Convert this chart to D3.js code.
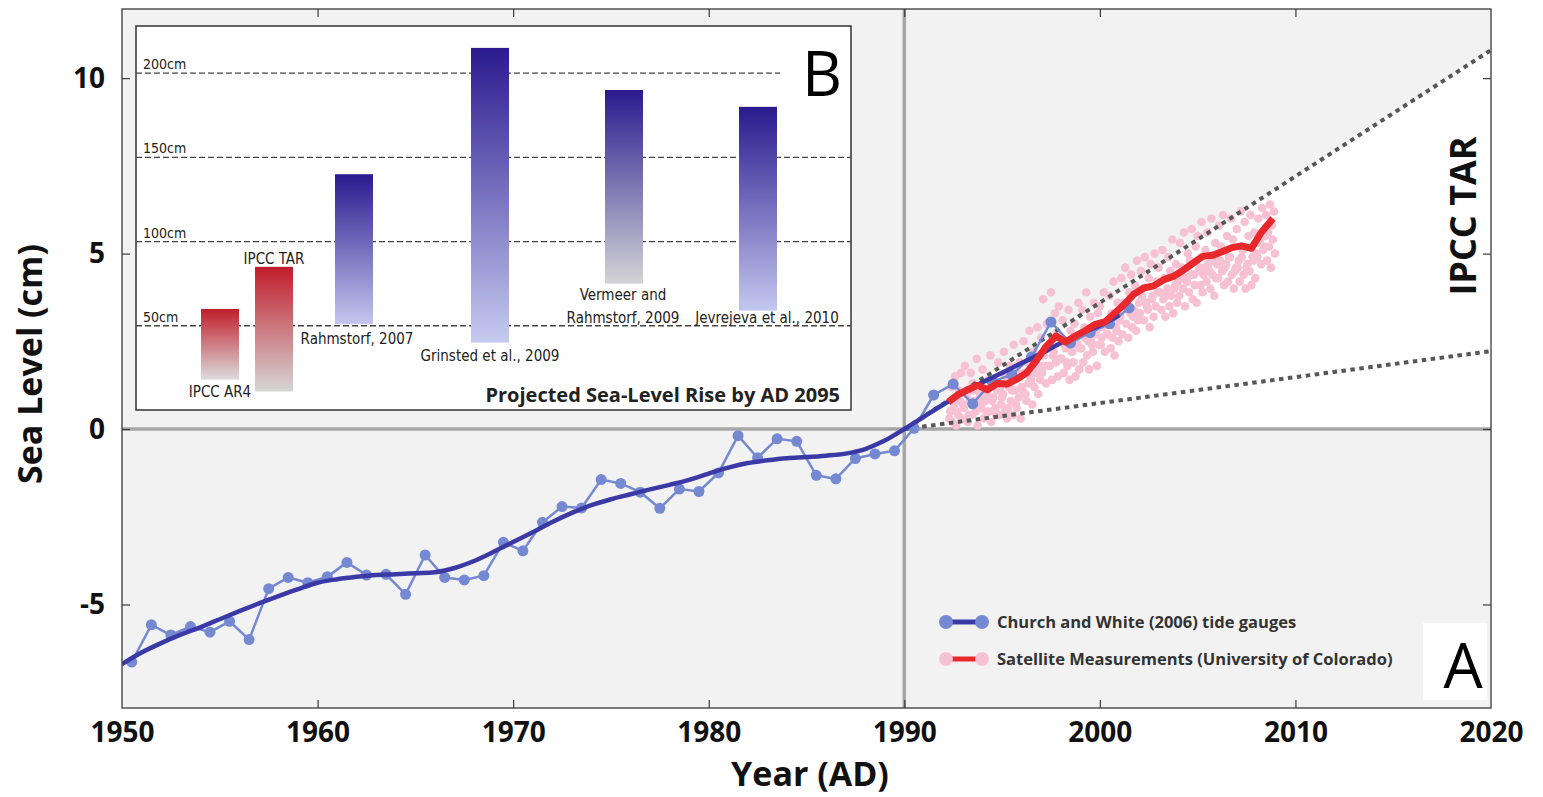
<!DOCTYPE html>
<html>
<head>
<meta charset="utf-8">
<script src="https://cdn.jsdelivr.net/npm/d3@7"></script>
<style>
  body { margin: 0; background: #ffffff; }
  svg { display: block; }
</style>
</head>
<body>
<svg id="chart" width="1543" height="797"></svg>
<script>
// ---------- Panel A data (sea level in cm, relative to 1990) ----------
const xTickYears = [1950, 1960, 1970, 1980, 1990, 2000, 2010, 2020];
const yTickValues = [-5, 0, 5, 10];

// Church and White (2006) annual tide-gauge means
const tideYears = [1950.5, 1951.5, 1952.5, 1953.5, 1954.5, 1955.5, 1956.5, 1957.5, 1958.5, 1959.5,
  1960.5, 1961.5, 1962.5, 1963.5, 1964.5, 1965.5, 1966.5, 1967.5, 1968.5, 1969.5,
  1970.5, 1971.5, 1972.5, 1973.5, 1974.5, 1975.5, 1976.5, 1977.5, 1978.5, 1979.5,
  1980.5, 1981.5, 1982.5, 1983.5, 1984.5, 1985.5, 1986.5, 1987.5, 1988.5, 1989.5,
  1990.5, 1991.5, 1992.5, 1993.5, 1994.5, 1995.5, 1996.5, 1997.5, 1998.5, 1999.5,
  2000.5, 2001.5];
const tideValues = [-6.64, -5.58, -5.87, -5.63, -5.79, -5.48, -6.0, -4.55, -4.23, -4.38,
  -4.21, -3.8, -4.16, -4.14, -4.71, -3.59, -4.23, -4.3, -4.18, -3.23,
  -3.47, -2.66, -2.21, -2.25, -1.44, -1.55, -1.8, -2.26, -1.71, -1.78,
  -1.25, -0.19, -0.82, -0.28, -0.35, -1.32, -1.42, -0.84, -0.71, -0.62,
  0.02, 0.97, 1.28, 0.72, 1.35, 1.55, 2.05, 3.05, 2.45, 2.75,
  3.0, 3.45];

// Smoothed tide-gauge trend
const trendYears = [1950, 1951, 1952, 1953, 1954, 1955, 1956, 1957, 1958, 1959,
  1960, 1961, 1962, 1963, 1964, 1965, 1966, 1967, 1968, 1969,
  1970, 1971, 1972, 1973, 1974, 1975, 1976, 1977, 1978, 1979,
  1980, 1981, 1982, 1983, 1984, 1985, 1986, 1987, 1988, 1989,
  1990, 1991, 1992, 1993, 1994, 1995, 1996, 1997, 1998, 1999, 2000, 2001];
const trendValues = [-6.7, -6.37, -6.1, -5.86, -5.65, -5.42, -5.19, -4.97, -4.76, -4.56,
  -4.38, -4.28, -4.21, -4.16, -4.14, -4.11, -4.08, -3.96, -3.76, -3.5,
  -3.22, -2.94, -2.65, -2.39, -2.17, -2.0, -1.86, -1.72, -1.59, -1.45,
  -1.27, -1.1, -0.97, -0.89, -0.83, -0.8, -0.76, -0.7, -0.57, -0.33,
  0.0, 0.35, 0.7, 1.02, 1.33, 1.6, 1.88, 2.15, 2.45, 2.72, 2.95, 3.25];

// University of Colorado satellite altimetry: smoothed curve
const satLineYears = [1992.25, 1992.75, 1993.25, 1993.75, 1994.25, 1994.75, 1995.25, 1995.75,
  1996.25, 1996.75, 1997.25, 1997.75, 1998.25, 1998.75, 1999.25, 1999.75,
  2000.25, 2000.75, 2001.25, 2001.75, 2002.25, 2002.75, 2003.25, 2003.75,
  2004.25, 2004.75, 2005.25, 2005.75, 2006.25, 2006.75, 2007.25, 2007.75,
  2008.25, 2008.85];
const satLineValues = [0.77, 0.98, 1.12, 1.25, 1.12, 1.3, 1.28, 1.42,
  1.6, 1.95, 2.35, 2.65, 2.48, 2.65, 2.8, 2.98,
  3.05, 3.3, 3.55, 3.85, 4.02, 4.08, 4.25, 4.35,
  4.52, 4.72, 4.92, 4.95, 5.05, 5.17, 5.22, 5.15,
  5.6, 6.0];

// Satellite individual measurements (two interleaved passes, 0.1-year spacing)
const satFirstYear = 1992.3;
const satStepYears = 0.1;
const satPassA = [0.3, 1.2, 0.6, 1.5, 0.5, 1.1, 1.6,
  0.7, 1.8, 1.0, 0.4, 1.6, 1.3, 0.8, 2.0, 1.1, 0.6,
  1.7, 0.9, 0.5, 1.4, 2.1, 0.8, 1.3, 0.4, 1.9, 1.2,
  0.9, 2.2, 1.5, 0.6, 1.8, 1.1, 2.4, 0.7, 1.6, 1.9,
  1.2, 2.5, 1.0, 1.9, 2.8, 1.4, 2.2, 1.6, 2.9, 1.8,
  2.6, 3.7, 1.8, 3.0, 2.3, 3.9, 2.1, 3.3, 2.7, 3.5,
  2.0, 3.1, 2.4, 1.9, 3.4, 2.8, 2.2, 3.0, 2.5, 3.6,
  2.3, 3.4, 2.9, 3.9, 2.5, 3.2, 2.4, 3.6, 2.8, 3.3,
  3.5, 2.6, 3.9, 3.0, 2.7, 3.8, 3.3, 4.2, 2.9, 3.6,
  3.1, 4.3, 3.6, 4.6, 3.4, 3.9, 4.4, 3.2, 4.1, 4.8,
  3.6, 4.5, 4.0, 4.9, 3.5, 4.3, 4.7, 3.8, 5.0, 4.2,
  4.6, 3.9, 5.1, 4.3, 3.8, 4.9, 4.5, 5.4, 4.0, 4.7,
  4.2, 5.3, 4.6, 5.6, 4.3, 5.0, 4.8, 5.7, 4.4, 5.2,
  5.5, 4.6, 5.9, 4.4, 5.1, 5.6, 4.5, 6.0, 4.8, 5.3,
  4.7, 5.8, 5.2, 6.1, 4.6, 5.5, 4.9, 6.0, 5.4, 4.5,
  5.7, 4.8, 6.2, 5.1, 5.9, 4.6, 5.5, 6.1, 4.9, 5.6,
  5.0, 6.0, 5.4, 6.3, 5.2, 6.1, 5.6, 6.4, 5.8, 6.2];
const satPassB = [0.5, 0.2, 0.7, 0.1, 0.4, 0.8, 0.3,
  0.6, 1.0, 0.2, 0.8, 0.4, 1.1, 0.5, 0.1, 0.9, 0.7,
  0.3, 0.8, 1.0, 0.5, 0.2, 0.9, 0.6, 1.1, 0.4, 0.7,
  1.0, 0.5, 0.3, 1.2, 0.8, 0.4, 1.1, 0.6, 0.9, 0.3,
  1.1, 1.6, 0.8, 1.3, 1.5, 0.7, 1.2, 1.7, 1.0, 1.4,
  1.6, 2.1, 1.3, 2.3, 1.8, 1.4, 2.2, 1.9, 1.5, 2.0,
  2.0, 1.6, 2.3, 1.8, 1.4, 2.2, 1.9, 1.5, 2.4, 1.7,
  2.3, 1.9, 2.6, 2.1, 1.7, 2.5, 2.2, 2.7, 1.8, 2.4,
  2.4, 2.9, 2.2, 2.7, 3.0, 2.3, 2.6, 2.1, 2.8, 2.5,
  3.2, 2.7, 3.5, 3.0, 2.6, 3.3, 2.9, 3.4, 2.8, 3.1,
  3.3, 3.8, 3.1, 3.6, 3.4, 2.9, 3.7, 3.2, 3.5, 3.9,
  3.9, 3.4, 3.7, 3.2, 4.0, 3.5, 3.8, 3.3, 4.1, 3.6,
  3.8, 4.3, 4.0, 3.5, 4.2, 3.9, 4.4, 3.7, 4.1, 3.6,
  4.5, 4.1, 3.9, 4.6, 4.2, 4.7, 4.0, 4.4, 3.8, 4.3,
  4.3, 4.8, 4.5, 4.1, 4.7, 4.2, 4.9, 4.4, 4.0, 4.6,
  4.6, 4.2, 4.9, 4.4, 4.0, 4.7, 4.5, 4.1, 4.8, 4.3,
  4.9, 5.3, 4.7, 5.1, 5.5, 4.8, 5.2, 4.6, 5.4, 5.0];

// IPCC TAR projection envelope from 1990
const projYears = [1990, 2020];
const projUpper = [0, 10.8];
const projLower = [0, 2.22];

// ---------- Panel B data (projected rise by AD 2095, cm) ----------
const projectionNames = ["IPCC AR4", "IPCC TAR", "Rahmstorf, 2007", "Grinsted et al., 2009",
  "Vermeer and Rahmstorf, 2009", "Jevrejeva et al., 2010"];
const projectionLow = [18, 11, 51, 40, 75, 59];
const projectionHigh = [60, 85, 140, 215, 190, 180];
const insetGridValues = [50, 100, 150, 200];

// ---------- drawing ----------
const BOLD = "'Open Sans', 'DejaVu Sans', sans-serif";
const NARROW = "'Liberation Sans Narrow', 'DejaVu Sans Condensed', 'Arial Narrow', sans-serif";

const svg = d3.select("#chart");
const plot = { left: 122, right: 1491, top: 9, bottom: 708 };

const x = d3.scaleLinear().domain([1950, 2020]).range([plot.left, plot.right]);
const y = d3.scaleLinear().domain([-7.95, 11.97]).range([plot.bottom, plot.top]);

const defs = svg.append("defs");
defs.append("clipPath").attr("id", "plot-clip")
  .append("rect")
  .attr("x", plot.left).attr("y", plot.top)
  .attr("width", plot.right - plot.left).attr("height", plot.bottom - plot.top);

// plot background
svg.append("rect")
  .attr("x", plot.left).attr("y", plot.top)
  .attr("width", plot.right - plot.left).attr("height", plot.bottom - plot.top)
  .attr("fill", "#f2f2f2");

const body = svg.append("g").attr("clip-path", "url(#plot-clip)");

// white wedge below the upper projection, above the zero line
const wedge = [[projYears[0], projUpper[0]], [projYears[1], projUpper[1]], [projYears[1], 0]];
body.append("path")
  .attr("d", d3.line().x(d => x(d[0])).y(d => y(d[1]))(wedge) + "Z")
  .attr("fill", "#ffffff");

// reference lines at 1990 and zero
body.append("line")
  .attr("x1", plot.left).attr("x2", plot.right)
  .attr("y1", y(0)).attr("y2", y(0))
  .attr("stroke", "#a6a6a6").attr("stroke-width", 3.5);
body.append("line")
  .attr("x1", x(1990)).attr("x2", x(1990))
  .attr("y1", plot.top).attr("y2", plot.bottom)
  .attr("stroke", "#a6a6a6").attr("stroke-width", 3.5);

// satellite individual measurements
const satPoints = [];
satPassA.forEach((v, i) => satPoints.push([satFirstYear + i * satStepYears, v]));
satPassB.forEach((v, i) => satPoints.push([satFirstYear + satStepYears / 2 + i * satStepYears, v]));
body.append("g").selectAll("circle").data(satPoints).join("circle")
  .attr("cx", d => x(d[0])).attr("cy", d => y(d[1])).attr("r", 4.3)
  .attr("fill", "#f7c1d4");

// projection lines
const lineXY = d3.line().x(d => x(d[0])).y(d => y(d[1]));
[projUpper, projLower].forEach(vals => {
  body.append("path")
    .attr("d", lineXY(projYears.map((yr, i) => [yr, vals[i]])))
    .attr("fill", "none")
    .attr("stroke", "#575757")
    .attr("stroke-width", 4)
    .attr("stroke-dasharray", "4.5 4.5");
});

// tide gauge annual values
const tide = tideYears.map((yr, i) => [yr, tideValues[i]]);
body.append("path")
  .attr("d", lineXY(tide))
  .attr("fill", "none").attr("stroke", "#7489d2").attr("stroke-width", 2.5);
body.append("g").selectAll("circle").data(tide).join("circle")
  .attr("cx", d => x(d[0])).attr("cy", d => y(d[1])).attr("r", 5.5)
  .attr("fill", "#7489d2");

// tide gauge trend
const trend = trendYears.map((yr, i) => [yr, trendValues[i]]);
body.append("path")
  .attr("d", d3.line().x(d => x(d[0])).y(d => y(d[1])).curve(d3.curveMonotoneX)(trend))
  .attr("fill", "none").attr("stroke", "#3a39a6").attr("stroke-width", 4.5)
  .attr("stroke-linejoin", "round");

// satellite smoothed curve
const satLine = satLineYears.map((yr, i) => [yr, satLineValues[i]]);
body.append("path")
  .attr("d", lineXY(satLine))
  .attr("fill", "none").attr("stroke", "#e8282b").attr("stroke-width", 7)
  .attr("stroke-linejoin", "round");

// frame
svg.append("rect")
  .attr("x", plot.left).attr("y", plot.top)
  .attr("width", plot.right - plot.left).attr("height", plot.bottom - plot.top)
  .attr("fill", "none").attr("stroke", "#3a3a3a").attr("stroke-width", 1.3);

// axes with inward ticks
const innerYears = xTickYears.filter(v => v > 1950 && v < 2020);
const styleTicks = g => {
  g.select(".domain").remove();
  g.selectAll(".tick line").attr("stroke", "#3a3a3a").attr("stroke-width", 1.2);
};
svg.append("g").attr("transform", `translate(0,${plot.top})`)
  .call(d3.axisTop(x).tickValues(innerYears).tickSize(-8).tickFormat(""))
  .call(styleTicks);
svg.append("g").attr("transform", `translate(${plot.right},0)`)
  .call(d3.axisRight(y).tickValues(yTickValues).tickSize(-8).tickFormat(""))
  .call(styleTicks);

const xAxis = svg.append("g").attr("transform", `translate(0,${plot.bottom})`)
  .call(d3.axisBottom(x).tickValues(xTickYears).tickSize(-8).tickPadding(14).tickFormat(d3.format("d")))
  .call(styleTicks);
xAxis.selectAll(".tick").filter(d => d === 1950 || d === 2020).select("line").remove();
xAxis.selectAll("text")
  .attr("font-family", BOLD).attr("font-weight", 700).attr("font-size", 28).attr("fill", "#111");

const yAxis = svg.append("g").attr("transform", `translate(${plot.left},0)`)
  .call(d3.axisLeft(y).tickValues(yTickValues).tickSize(-8).tickPadding(17).tickFormat(d => String(d)))
  .call(styleTicks);
yAxis.selectAll("text")
  .attr("font-family", BOLD).attr("font-weight", 700).attr("font-size", 28).attr("fill", "#111");

// axis titles
svg.append("text")
  .attr("x", 810).attr("y", 786)
  .attr("text-anchor", "middle")
  .attr("font-family", BOLD).attr("font-weight", 700).attr("font-size", 34).attr("fill", "#111")
  .text("Year (AD)");
svg.append("text")
  .attr("transform", "translate(42,364) rotate(-90)")
  .attr("text-anchor", "middle")
  .attr("font-family", BOLD).attr("font-weight", 700).attr("font-size", 34).attr("fill", "#111")
  .text("Sea Level (cm)");

// projection label
svg.append("text")
  .attr("transform", "translate(1476,216) rotate(-90)")
  .attr("text-anchor", "middle")
  .attr("font-family", BOLD).attr("font-weight", 700).attr("font-size", 36).attr("fill", "#111")
  .text("IPCC TAR");

// legend
const legend = svg.append("g");
const legendRows = [
  { label: "Church and White (2006) tide gauges", dot: "#7489d2", line: "#3a39a6", cy: 622 },
  { label: "Satellite Measurements (University of Colorado)", dot: "#f7c1d4", line: "#e8282b", cy: 659 }
];
legendRows.forEach(r => {
  legend.append("line").attr("x1", 946).attr("x2", 982).attr("y1", r.cy).attr("y2", r.cy)
    .attr("stroke", r.line).attr("stroke-width", 5);
  legend.append("circle").attr("cx", 946).attr("cy", r.cy).attr("r", 7).attr("fill", r.dot);
  legend.append("circle").attr("cx", 982).attr("cy", r.cy).attr("r", 7).attr("fill", r.dot);
  legend.append("text").attr("x", 997).attr("y", r.cy + 6)
    .attr("font-family", BOLD).attr("font-weight", 700).attr("font-size", 16.5).attr("fill", "#333")
    .text(r.label);
});

// panel letter A
svg.append("rect").attr("x", 1423).attr("y", 623).attr("width", 64).attr("height", 77).attr("fill", "#ffffff");
svg.append("text").attr("x", 1463).attr("y", 688).attr("text-anchor", "middle")
  .attr("font-family", BOLD).attr("font-weight", 400).attr("font-size", 62).attr("fill", "#000")
  .text("A");

// ---------- Panel B inset ----------
const inset = { left: 136, right: 851, top: 26, bottom: 410 };
svg.append("rect")
  .attr("x", inset.left).attr("y", inset.top)
  .attr("width", inset.right - inset.left).attr("height", inset.bottom - inset.top)
  .attr("fill", "#ffffff").attr("stroke", "#333").attr("stroke-width", 1.5);

const yi = d3.scaleLinear().domain([0, 228]).range([inset.bottom, inset.top]);
const xi = d3.scaleOrdinal().domain(projectionNames).range([220, 274, 354, 490, 624, 758]);
const barWidth = 38;

const gridG = svg.append("g");
insetGridValues.forEach(v => {
  gridG.append("line")
    .attr("x1", inset.left).attr("x2", v === 200 ? 780 : inset.right)
    .attr("y1", yi(v)).attr("y2", yi(v))
    .attr("stroke", "#444").attr("stroke-width", 1.4).attr("stroke-dasharray", "6 3");
  gridG.append("text")
    .attr("x", 143).attr("y", yi(v) - 4)
    .attr("font-family", NARROW).attr("font-size", 14).attr("fill", "#222")
    .text(v + "cm");
});

const gradColors = [
  ["#c01d2b", "#dcdcdc"],
  ["#c01d2b", "#d6d6d6"],
  ["#2a1a8e", "#c3c7ee"],
  ["#2a1a8e", "#c6caf0"],
  ["#2a1a8e", "#d4d4d6"],
  ["#2a1a8e", "#c3c7ee"]
];
projectionNames.forEach((name, i) => {
  const grad = defs.append("linearGradient").attr("id", "bar-grad-" + i)
    .attr("x1", 0).attr("y1", 0).attr("x2", 0).attr("y2", 1);
  grad.append("stop").attr("offset", "0%").attr("stop-color", gradColors[i][0]);
  grad.append("stop").attr("offset", "100%").attr("stop-color", gradColors[i][1]);
});

svg.append("g").selectAll("rect").data(projectionNames).join("rect")
  .attr("x", d => xi(d) - barWidth / 2)
  .attr("width", barWidth)
  .attr("y", (d, i) => yi(projectionHigh[i]))
  .attr("height", (d, i) => yi(projectionLow[i]) - yi(projectionHigh[i]))
  .attr("fill", (d, i) => `url(#bar-grad-${i})`);

// bar labels
const labelG = svg.append("g")
  .attr("font-family", NARROW).attr("font-size", 15).attr("fill", "#222").attr("text-anchor", "middle");
const addLabel = (lines, cx, baseY) => {
  lines.forEach((t, k) => labelG.append("text").attr("x", cx).attr("y", baseY + k * 23).text(t));
};
addLabel(["IPCC AR4"], xi(projectionNames[0]), yi(projectionLow[0]) + 17);
addLabel(["IPCC TAR"], xi(projectionNames[1]), yi(projectionHigh[1]) - 3);
addLabel(["Rahmstorf, 2007"], xi(projectionNames[2]) + 3, yi(projectionLow[2]) + 20);
addLabel(["Grinsted et al., 2009"], xi(projectionNames[3]), yi(projectionLow[3]) + 18);
addLabel(["Vermeer and", "Rahmstorf, 2009"], xi(projectionNames[4]) - 1, yi(projectionLow[4]) + 16);
addLabel(["Jevrejeva et al., 2010"], xi(projectionNames[5]) + 9, yi(projectionLow[5]) + 12);

svg.append("text")
  .attr("x", 840).attr("y", 402).attr("text-anchor", "end")
  .attr("font-family", BOLD).attr("font-weight", 700).attr("font-size", 20).attr("fill", "#222")
  .text("Projected Sea-Level Rise by AD 2095");

svg.append("text")
  .attr("x", 842).attr("y", 96).attr("text-anchor", "end")
  .attr("font-family", BOLD).attr("font-weight", 400).attr("font-size", 62).attr("fill", "#000")
  .text("B");
</script>
</body>
</html>
